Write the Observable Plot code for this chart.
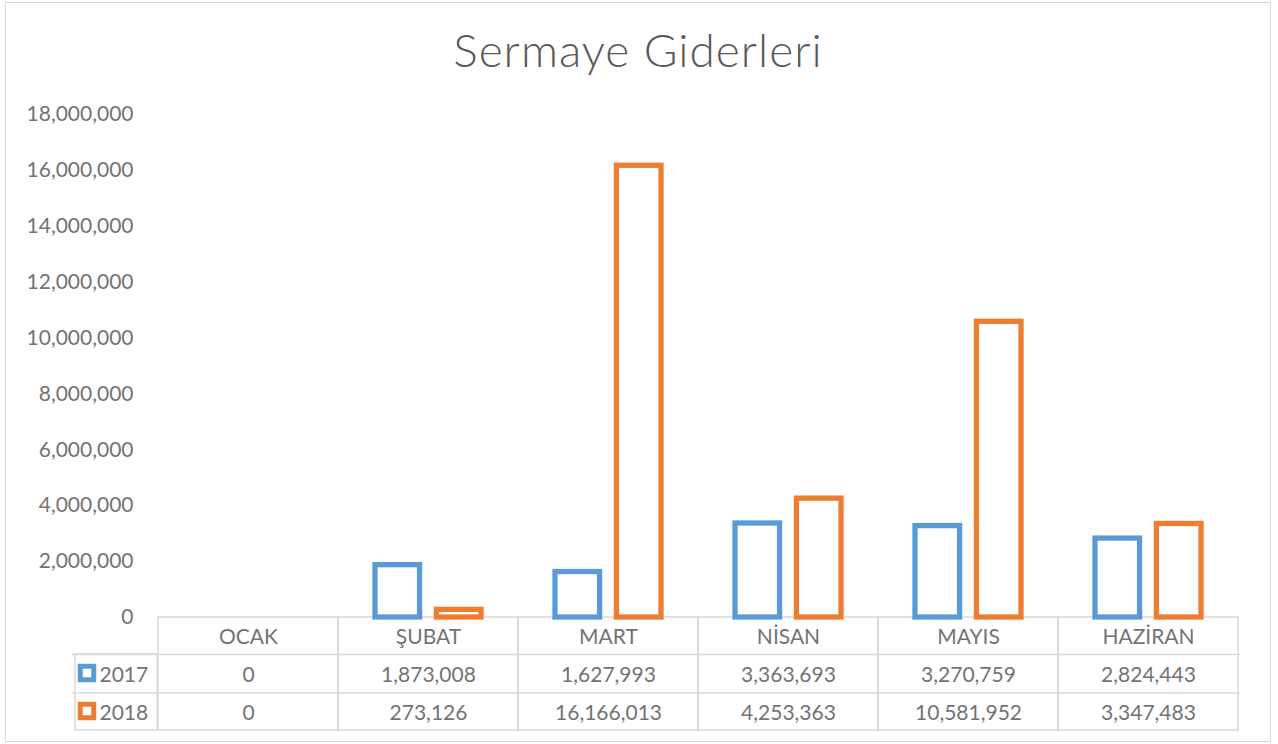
<!DOCTYPE html>
<html>
<head>
<meta charset="utf-8">
<script src="https://cdn.jsdelivr.net/npm/d3@7"></script>
<script src="https://cdn.jsdelivr.net/npm/@observablehq/plot@0.6"></script>
<style>
  html, body { margin: 0; padding: 0; background: #fff; }
  #wrap { position: relative; width: 1278px; height: 744px; overflow: hidden; }
  #border { position: absolute; left: 5px; top: 2px; width: 1266px; height: 740px; box-sizing: border-box; border: 1.5px solid #d9d9d9; }
  #title { position: absolute; left: 5px; width: 1266px; top: 22px; text-align: center; font-family: Lato, sans-serif; font-weight: 300; font-size: 46px; letter-spacing: 1px; line-height: 1.2; color: #595959; }
  #chart { position: absolute; left: 0; top: 95px; }
</style>
</head>
<body>
<div id="wrap">
  <div id="border"></div>
  <div id="title">Sermaye Giderleri</div>
  <div id="chart"></div>
</div>
<script>
const months = ["OCAK", "ŞUBAT", "MART", "NİSAN", "MAYIS", "HAZİRAN"];
const years = ["2017", "2018"];
const values2017 = [0, 1873008, 1627993, 3363693, 3270759, 2824443];
const values2018 = [0, 273126, 16166013, 4253363, 10581952, 3347483];
const yTicks = [0, 2000000, 4000000, 6000000, 8000000, 10000000, 12000000, 14000000, 16000000, 18000000];
const colors = ["#5B9BD5", "#ED7D31"];

const W = 1278, H = 649;
const mL = 155, mR = 38, mT = 19, mB = 127;
const bw = (W - mL - mR) / months.length;
const grid = "#d9d9d9";
const textColor = "#737373";
const fmt = d3.format(",");

const series = [values2017, values2018].map((vals, s) =>
  months.map((m, i) => ({month: m, year: years[s], value: vals[i]}))
);

const barW = 45.4;
const padNear = 37;
const padFar = bw - padNear - barW;

const lineW = 1.5;
const rowH1 = 37, rowH2 = 75.5, tableH = 113;

const plot = Plot.plot({
  width: W,
  height: H,
  marginLeft: mL,
  marginRight: mR,
  marginTop: mT,
  marginBottom: mB,
  style: {fontFamily: "Lato, sans-serif", fontSize: "21px", color: textColor, background: "transparent"},
  x: {type: "band", domain: months, padding: 0, axis: null},
  y: {domain: [0, 18000000], axis: null},
  marks: [
    // y axis
    Plot.axisY({ticks: yTicks, tickFormat: fmt, tickSize: 0, tickPadding: 22, label: null, fontSize: 21, fill: textColor}),
    // data table: month columns (header + 2 rows)
    Plot.barY(months, {x: d => d, y1: 0, y2: 0, insetBottom: -tableH, fill: "none", stroke: grid, strokeWidth: lineW}),
    // row separators extending into the legend column
    Plot.ruleY([0], {dy: rowH1, insetLeft: -(mL - 72), stroke: grid, strokeWidth: lineW}),
    Plot.ruleY([0], {dy: rowH2, insetLeft: -(mL - 72), stroke: grid, strokeWidth: lineW}),
    // legend column block
    Plot.barY([months[0]], {x: d => d, y1: 0, y2: 0, insetTop: rowH1, insetBottom: -tableH, insetLeft: -(mL - 72), insetRight: bw, fill: "none", stroke: grid, strokeWidth: lineW}),
    // header labels
    Plot.text(months, {x: d => d, text: d => d, frameAnchor: "bottom", dy: 19.8, lineAnchor: "middle", fontSize: 21, fill: textColor}),
    // row values
    Plot.text(series[0], {x: "month", text: d => fmt(d.value), frameAnchor: "bottom", dy: 57.8, lineAnchor: "middle", fontSize: 21, fill: textColor}),
    Plot.text(series[1], {x: "month", text: d => fmt(d.value), frameAnchor: "bottom", dy: 95.8, lineAnchor: "middle", fontSize: 21, fill: textColor}),
    // legend keys and year labels
    Plot.dot([years[0]], {frameAnchor: "bottom-left", dx: -68.5, dy: 55.5, symbol: "square", r: 7.6, fill: "white", stroke: colors[0], strokeWidth: 5}),
    Plot.dot([years[1]], {frameAnchor: "bottom-left", dx: -68.5, dy: 93.5, symbol: "square", r: 7.6, fill: "white", stroke: colors[1], strokeWidth: 5}),
    Plot.text([years[0]], {text: d => d, frameAnchor: "bottom-left", dx: -56, dy: 57.8, textAnchor: "start", lineAnchor: "middle", fontSize: 21, fill: textColor}),
    Plot.text([years[1]], {text: d => d, frameAnchor: "bottom-left", dx: -56, dy: 95.8, textAnchor: "start", lineAnchor: "middle", fontSize: 21, fill: textColor}),
    // bars
    Plot.barY(series[0], {filter: d => d.value > 0, x: "month", y: "value", insetLeft: padNear, insetRight: padFar, fill: "white", stroke: colors[0], strokeWidth: 5.3}),
    Plot.barY(series[1], {filter: d => d.value > 0, x: "month", y: "value", insetLeft: padFar, insetRight: padNear, fill: "white", stroke: colors[1], strokeWidth: 5.3})
  ]
});
document.getElementById("chart").appendChild(plot);
</script>
</body>
</html>
